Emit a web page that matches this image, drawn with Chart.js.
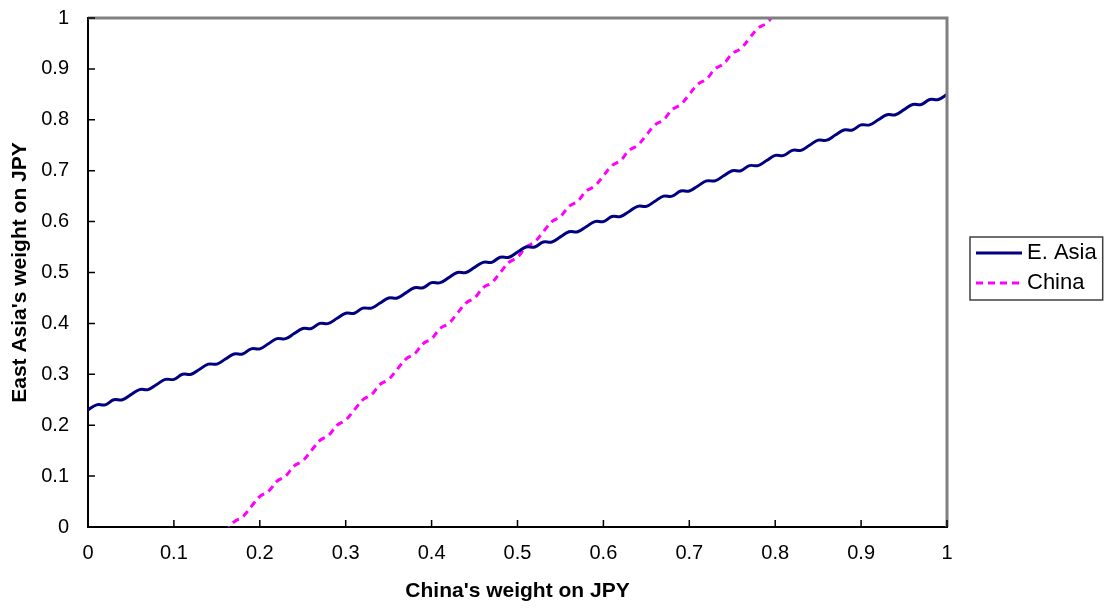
<!DOCTYPE html>
<html>
<head>
<meta charset="utf-8">
<script src="https://cdn.jsdelivr.net/npm/chart.js@4/dist/chart.umd.min.js"></script>
<style>
  body { margin: 0; background: #fff; }
  #wrap { width: 1104px; height: 608px; }
</style>
</head>
<body>
<div id="wrap"><canvas id="weightChart" width="1104" height="608"></canvas></div>
<script>
// China's weight on JPY (x)
const chinaWeight = [
   0.00, 0.01, 0.02, 0.03, 0.04, 0.05, 0.06, 0.07, 0.08, 0.09,
   0.10, 0.11, 0.12, 0.13, 0.14, 0.15, 0.16, 0.17, 0.18, 0.19,
   0.20, 0.21, 0.22, 0.23, 0.24, 0.25, 0.26, 0.27, 0.28, 0.29,
   0.30, 0.31, 0.32, 0.33, 0.34, 0.35, 0.36, 0.37, 0.38, 0.39,
   0.40, 0.41, 0.42, 0.43, 0.44, 0.45, 0.46, 0.47, 0.48, 0.49,
   0.50, 0.51, 0.52, 0.53, 0.54, 0.55, 0.56, 0.57, 0.58, 0.59,
   0.60, 0.61, 0.62, 0.63, 0.64, 0.65, 0.66, 0.67, 0.68, 0.69,
   0.70, 0.71, 0.72, 0.73, 0.74, 0.75, 0.76, 0.77, 0.78, 0.79,
   0.80, 0.81, 0.82, 0.83, 0.84, 0.85, 0.86, 0.87, 0.88, 0.89,
   0.90, 0.91, 0.92, 0.93, 0.94, 0.95, 0.96, 0.97, 0.98, 0.99,
   1.00
];

// East Asia's weight on JPY
const eastAsia = [
   0.23, 0.24, 0.24, 0.25, 0.25, 0.26, 0.27, 0.27, 0.28, 0.29,
   0.29, 0.30, 0.30, 0.31, 0.32, 0.32, 0.33, 0.34, 0.34, 0.35,
   0.35, 0.36, 0.37, 0.37, 0.38, 0.39, 0.39, 0.40, 0.40, 0.41,
   0.42, 0.42, 0.43, 0.43, 0.44, 0.45, 0.45, 0.46, 0.47, 0.47,
   0.48, 0.48, 0.49, 0.50, 0.50, 0.51, 0.52, 0.52, 0.53, 0.53,
   0.54, 0.55, 0.55, 0.56, 0.56, 0.57, 0.58, 0.58, 0.59, 0.60,
   0.60, 0.61, 0.61, 0.62, 0.63, 0.63, 0.64, 0.65, 0.65, 0.66,
   0.66, 0.67, 0.68, 0.68, 0.69, 0.70, 0.70, 0.71, 0.71, 0.72,
   0.73, 0.73, 0.74, 0.74, 0.75, 0.76, 0.76, 0.77, 0.78, 0.78,
   0.79, 0.79, 0.80, 0.81, 0.81, 0.82, 0.83, 0.83, 0.84, 0.84,
   0.85
];

// China line (only inside the visible range)
const china = [
   null, null, null, null, null, null, null, null, null, null,
   null, null, null, null, null, null, -0.01, 0.01, 0.02, 0.04,
   0.06, 0.07, 0.09, 0.10, 0.12, 0.13, 0.15, 0.17, 0.18, 0.20,
   0.21, 0.23, 0.25, 0.26, 0.28, 0.29, 0.31, 0.33, 0.34, 0.36,
   0.37, 0.39, 0.40, 0.42, 0.44, 0.45, 0.47, 0.48, 0.50, 0.52,
   0.53, 0.55, 0.56, 0.58, 0.60, 0.61, 0.63, 0.64, 0.66, 0.67,
   0.69, 0.71, 0.72, 0.74, 0.75, 0.77, 0.79, 0.80, 0.82, 0.83,
   0.85, 0.87, 0.88, 0.90, 0.91, 0.93, 0.94, 0.96, 0.98, 0.99,
   1.01, null, null, null, null, null, null, null, null, null,
   null, null, null, null, null, null, null, null, null, null,
   null
];

const toPoints = (ys) => chinaWeight.map((x, i) => ({ x: x, y: ys[i] }));
const fmt = (v) => String(Math.round(v * 10) / 10);

const fontFamily = "'Liberation Sans', Arial, sans-serif";
const tickFont = { family: fontFamily, size: 20 };
const titleFont = { family: fontFamily, size: 21, weight: 'bold' };

// legend sits a bit away from the plot, like the original
const legendPlace = {
   id: 'legendPlace',
   beforeLayout(chart) {
      const lg = chart.legend;
      if (lg && !lg._wrapped) {
         const fit = lg.fit;
         lg.fit = function () { fit.call(this); this.width = 157; };
         lg._wrapped = true;
      }
   },
   afterLayout(chart) {
      const lg = chart.legend;
      lg.left = 968;
      lg.right = 1104;
      lg.top = 234;
   }
};

// ticks pointing into the plot, gray frame on top/right, box + samples for legend
const frame = {
   id: 'frame',
   afterDraw(chart) {
      const { ctx, chartArea: a, scales } = chart;
      ctx.save();
      ctx.strokeStyle = '#808080';
      ctx.lineWidth = 3;
      ctx.beginPath();
      ctx.moveTo(a.left, a.top);
      ctx.lineTo(a.right, a.top);
      ctx.lineTo(a.right, a.bottom);
      ctx.stroke();

      ctx.strokeStyle = '#000';
      ctx.lineWidth = 1.5;
      ctx.beginPath();
      scales.x.ticks.forEach(t => {
         const px = scales.x.getPixelForValue(t.value);
         ctx.moveTo(px, a.bottom);
         ctx.lineTo(px, a.bottom - 7);
      });
      scales.y.ticks.forEach(t => {
         const py = scales.y.getPixelForValue(t.value);
         ctx.moveTo(a.left, py);
         ctx.lineTo(a.left + 7, py);
      });
      ctx.stroke();

      const boxes = chart.legend.legendHitBoxes;
      if (boxes && boxes.length) {
         boxes.forEach((b, i) => {
            const ds = chart.data.datasets[i];
            const y = b.top + b.height / 2;
            ctx.strokeStyle = ds.borderColor;
            ctx.lineWidth = ds.borderWidth;
            ctx.setLineDash(ds.borderDash || []);
            ctx.beginPath();
            ctx.moveTo(b.left, y);
            ctx.lineTo(b.left + 46, y);
            ctx.stroke();
         });
         ctx.setLineDash([]);
         const l = Math.min(...boxes.map(b => b.left)) - 6;
         const r = Math.max(...boxes.map(b => b.left + b.width)) + 6;
         const t = Math.min(...boxes.map(b => b.top)) - 5;
         const btm = Math.max(...boxes.map(b => b.top + b.height)) + 6;
         ctx.strokeStyle = '#404040';
         ctx.lineWidth = 1.5;
         ctx.strokeRect(l, t, r - l, btm - t);
      }
      ctx.restore();
   }
};

new Chart(document.getElementById('weightChart'), {
   type: 'line',
   data: {
      datasets: [{
         label: 'E. Asia',
         data: toPoints(eastAsia),
         borderColor: '#000080',
         backgroundColor: '#000080',
         borderWidth: 3,
         pointRadius: 0,
         tension: 0.4
      }, {
         label: 'China',
         data: toPoints(china),
         borderColor: '#FF00FF',
         backgroundColor: '#FF00FF',
         borderWidth: 3,
         borderDash: [7, 5],
         pointRadius: 0,
         tension: 0.4
      }]
   },
   options: {
      responsive: false,
      animation: false,
      devicePixelRatio: 1,
      layout: { padding: { top: 18, left: 0, right: 0, bottom: 0 } },
      plugins: {
         tooltip: { enabled: false },
         legend: {
            position: 'right',
            align: 'start',
            labels: {
               color: '#000',
               font: { family: fontFamily, size: 22 },
               usePointStyle: true,
               pointStyle: 'line',
               pointStyleWidth: 40,
               boxWidth: 40,
               boxHeight: 4,
               padding: 8,
               generateLabels(chart) {
                  const items = Chart.defaults.plugins.legend.labels.generateLabels(chart);
                  items.forEach(it => {
                     it.strokeStyle = 'rgba(0,0,0,0)';
                     it.fillStyle = 'rgba(0,0,0,0)';
                  });
                  return items;
               }
            }
         }
      },
      scales: {
         x: {
            type: 'linear',
            min: 0,
            max: 1,
            ticks: { stepSize: 0.1, color: '#000', font: tickFont, padding: 14, callback: fmt },
            grid: { drawOnChartArea: false, drawTicks: false },
            border: { color: '#000', width: 2 },
            title: { display: true, text: "China's weight on JPY", color: '#000', font: titleFont, padding: { top: 4, bottom: 4 } },
            afterFit(scale) { scale.height = 81; scale.paddingLeft = 0; scale.paddingRight = 0; }
         },
         y: {
            min: 0,
            max: 1,
            ticks: { stepSize: 0.1, color: '#000', font: tickFont, padding: 19, callback: fmt },
            grid: { drawOnChartArea: false, drawTicks: false },
            border: { color: '#000', width: 2 },
            title: { display: true, text: "East Asia's weight on JPY", color: '#000', font: titleFont, padding: { top: 8, bottom: 0 } },
            afterFit(scale) { scale.width = 88; scale.paddingTop = 0; scale.paddingBottom = 0; }
         }
      }
   },
   plugins: [legendPlace, frame]
});
</script>
</body>
</html>
